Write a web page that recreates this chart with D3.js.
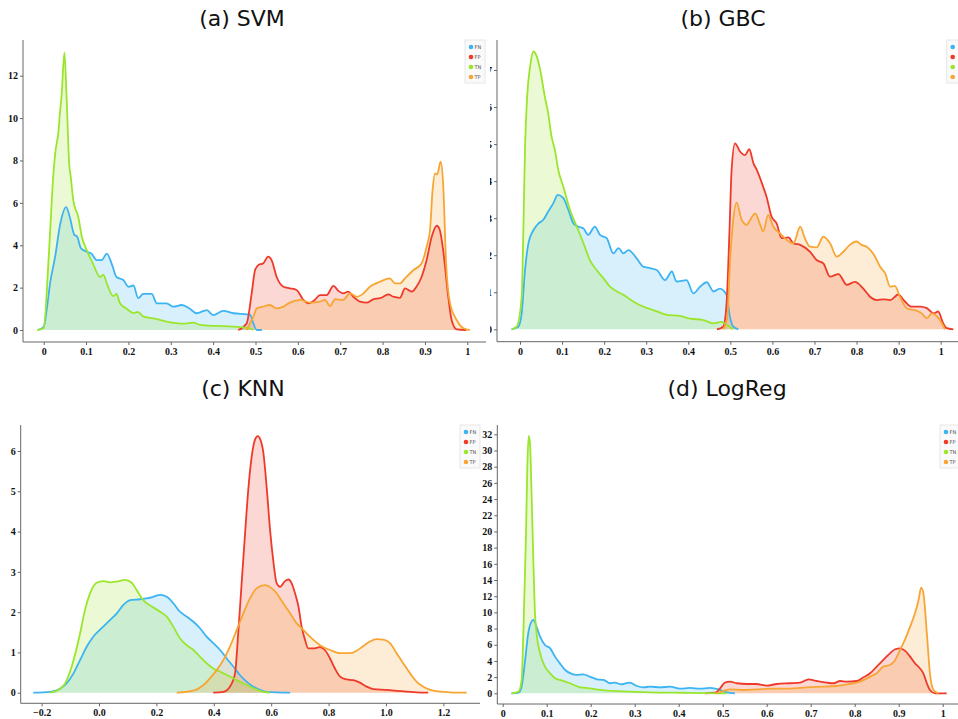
<!DOCTYPE html>
<html>
<head>
<meta charset="utf-8">
<script src="https://cdn.jsdelivr.net/npm/d3@7"></script>
<style>
  body { margin: 0; background: #fff; }
  svg { display: block; }
  .axis path, .axis line { stroke: #666; }
  .axis text { font-family: 'Liberation Serif', serif; font-weight: bold; font-size: 10px; fill: #111; }
  .title { font-family: 'DejaVu Sans', sans-serif; font-size: 22px; fill: #111; }
  .legend text { font-family: 'DejaVu Sans', sans-serif; font-size: 5px; fill: #555; }
</style>
</head>
<body>
<svg id="chart" width="958" height="719"></svg>
<script>
const series = ['FN', 'FP', 'TN', 'TP']
const colors = { FN: '#3db4f2', FP: '#ee3a2a', TN: '#9ae62c', TP: '#f7a533' }

// (a) SVM
const svmFN = [[-0.014,0],[0,0.15],[0.007,0.94],[0.015,2.2],[0.027,3.46],[0.039,5.0],[0.053,5.8],[0.062,5.3],[0.072,4.5],[0.079,4.4],[0.088,3.85],[0.101,3.7],[0.113,3.6],[0.125,3.3],[0.137,3.3],[0.149,3.6],[0.161,3.1],[0.172,2.5],[0.188,2.36],[0.2,2.04],[0.212,2.1],[0.223,1.5],[0.235,1.7],[0.255,1.7],[0.267,1.26],[0.29,1.26],[0.306,1.1],[0.326,1.18],[0.345,1.0],[0.361,0.79],[0.385,0.94],[0.4,0.7],[0.424,0.9],[0.448,0.79],[0.479,0.74],[0.487,0.72],[0.495,0.31],[0.503,0],[0.515,0]]
const svmFP = [[0.459,0],[0.479,0.31],[0.491,1.73],[0.499,2.83],[0.507,3.07],[0.518,3.14],[0.530,3.46],[0.538,3.3],[0.550,2.5],[0.566,2.04],[0.581,1.97],[0.597,1.89],[0.613,1.42],[0.625,1.26],[0.640,1.42],[0.652,1.65],[0.668,1.65],[0.684,2.08],[0.696,1.84],[0.707,1.73],[0.719,1.81],[0.731,1.57],[0.747,1.34],[0.762,1.29],[0.778,1.45],[0.794,1.5],[0.814,1.68],[0.825,1.57],[0.841,1.52],[0.853,1.96],[0.869,1.81],[0.880,2.04],[0.892,2.5],[0.904,3.3],[0.916,4.4],[0.928,4.92],[0.935,4.72],[0.943,3.77],[0.955,1.57],[0.963,0.47],[0.975,0.03],[0.998,0]]
const svmTN = [[-0.015,0],[0,0.1],[0.012,3.5],[0.023,7.4],[0.027,8.3],[0.035,9.4],[0.039,10.4],[0.042,11],[0.049,13.1],[0.054,11],[0.060,7.9],[0.064,7.2],[0.070,6.1],[0.082,5.3],[0.090,4.4],[0.101,3.8],[0.117,3.1],[0.133,2.5],[0.141,2.6],[0.149,2.2],[0.164,1.6],[0.172,1.7],[0.180,1.26],[0.196,1.0],[0.212,0.8],[0.222,0.85],[0.236,0.63],[0.259,0.55],[0.290,0.4],[0.330,0.3],[0.353,0.35],[0.369,0.24],[0.408,0.19],[0.448,0.16],[0.487,0.08],[0.495,0]]
const svmTP = [[0.479,0],[0.495,0.63],[0.503,1.02],[0.518,1.1],[0.534,1.18],[0.550,1.02],[0.566,1.1],[0.581,1.29],[0.605,1.42],[0.629,1.29],[0.652,1.34],[0.664,1.42],[0.676,1.13],[0.688,1.45],[0.707,1.42],[0.723,1.73],[0.739,1.57],[0.755,1.73],[0.770,2.04],[0.794,2.28],[0.817,2.44],[0.829,2.2],[0.841,2.2],[0.853,2.44],[0.873,2.83],[0.892,3.14],[0.904,3.93],[0.912,4.72],[0.918,6.6],[0.924,7.39],[0.929,7.34],[0.937,7.94],[0.943,6.9],[0.950,3.14],[0.959,1.29],[0.975,0.47],[0.991,0.08],[1.006,0]]

// (b) GBC
const gbcFN = [[-0.020,0],[-0.004,0.07],[0.004,0.43],[0.012,1.6],[0.020,2.32],[0.032,2.68],[0.044,2.86],[0.055,2.95],[0.067,3.18],[0.079,3.4],[0.090,3.63],[0.103,3.54],[0.115,3.22],[0.127,2.86],[0.139,2.77],[0.151,2.72],[0.162,2.55],[0.178,2.77],[0.190,2.55],[0.206,2.46],[0.222,2.05],[0.234,2.19],[0.246,2.05],[0.258,2.14],[0.277,1.92],[0.293,1.69],[0.309,1.65],[0.325,1.6],[0.345,1.33],[0.361,1.56],[0.372,1.29],[0.396,1.33],[0.412,0.97],[0.428,1.15],[0.444,1.27],[0.460,1.02],[0.475,1.1],[0.491,0.93],[0.499,0.34],[0.507,0.07],[0.519,0]]
const gbcFP = [[0.468,0],[0.483,0.07],[0.491,0.7],[0.498,2.68],[0.503,4.3],[0.511,5.02],[0.523,4.8],[0.535,4.7],[0.545,4.86],[0.555,4.48],[0.563,4.3],[0.578,3.85],[0.586,3.58],[0.598,3.04],[0.610,2.86],[0.622,2.46],[0.638,2.48],[0.650,2.32],[0.666,2.28],[0.689,2.1],[0.705,1.87],[0.721,1.78],[0.737,1.42],[0.757,1.49],[0.777,1.2],[0.796,1.28],[0.816,1.1],[0.832,0.88],[0.848,0.79],[0.864,0.81],[0.880,0.79],[0.899,0.94],[0.915,0.75],[0.931,0.61],[0.951,0.61],[0.967,0.57],[0.983,0.43],[0.994,0.48],[1.006,0.16],[1.014,0.03],[1.030,0]]
const gbcTN = [[-0.020,0],[-0.008,0.07],[0.004,0.88],[0.008,2.68],[0.012,4.93],[0.017,6.28],[0.024,7.09],[0.032,7.5],[0.040,7.36],[0.048,7.0],[0.059,6.28],[0.067,5.83],[0.075,5.2],[0.083,4.84],[0.091,4.3],[0.103,3.85],[0.119,3.22],[0.135,2.77],[0.151,2.32],[0.166,1.87],[0.182,1.6],[0.198,1.38],[0.214,1.15],[0.230,1.02],[0.246,0.93],[0.269,0.75],[0.293,0.61],[0.317,0.52],[0.349,0.39],[0.380,0.36],[0.404,0.29],[0.436,0.25],[0.460,0.16],[0.479,0.2],[0.491,0.12],[0.507,0]]
const gbcTP = [[0.483,0],[0.493,0.34],[0.499,1.78],[0.506,2.86],[0.515,3.42],[0.527,2.95],[0.539,2.82],[0.547,2.95],[0.559,3.13],[0.571,2.82],[0.578,2.64],[0.590,3.09],[0.602,2.77],[0.618,2.59],[0.634,2.41],[0.650,2.32],[0.666,2.77],[0.677,2.46],[0.689,2.23],[0.705,2.21],[0.721,2.5],[0.737,2.32],[0.753,1.96],[0.769,2.1],[0.784,2.28],[0.800,2.37],[0.812,2.28],[0.824,2.23],[0.844,1.96],[0.856,1.69],[0.868,1.51],[0.880,1.15],[0.891,1.17],[0.903,0.88],[0.919,0.57],[0.943,0.5],[0.955,0.43],[0.967,0.3],[0.979,0.43],[0.990,0.36],[0.998,0.25],[1.010,0]]

// (c) KNN
const knnFN = [[-0.229,0],[-0.171,0.02],[-0.136,0.1],[-0.113,0.23],[-0.089,0.48],[-0.066,0.81],[-0.043,1.14],[-0.020,1.39],[0.003,1.56],[0.038,1.8],[0.062,1.97],[0.085,2.18],[0.108,2.3],[0.143,2.32],[0.166,2.34],[0.189,2.38],[0.213,2.43],[0.236,2.38],[0.259,2.22],[0.282,2.01],[0.305,1.89],[0.329,1.76],[0.352,1.6],[0.375,1.39],[0.398,1.23],[0.422,1.06],[0.445,0.85],[0.468,0.65],[0.491,0.44],[0.515,0.27],[0.538,0.15],[0.561,0.07],[0.584,0.02],[0.666,0]]
const knnFP = [[0.398,0],[0.433,0.02],[0.456,0.15],[0.474,0.48],[0.485,1.47],[0.497,2.72],[0.509,3.96],[0.520,5.03],[0.532,5.86],[0.543,6.27],[0.553,6.37],[0.563,6.27],[0.573,5.94],[0.584,5.12],[0.596,4.04],[0.607,3.29],[0.619,2.72],[0.631,2.63],[0.648,2.77],[0.660,2.81],[0.671,2.72],[0.683,2.47],[0.695,2.14],[0.706,1.64],[0.718,1.31],[0.729,1.1],[0.747,1.1],[0.770,1.13],[0.787,1.06],[0.805,0.85],[0.822,0.6],[0.840,0.4],[0.863,0.33],[0.886,0.31],[0.909,0.25],[0.933,0.15],[0.956,0.09],[1.002,0.07],[1.049,0.04],[1.107,0.01],[1.147,0]]
const knnTN = [[-0.171,0],[-0.142,0.07],[-0.118,0.23],[-0.095,0.65],[-0.066,1.47],[-0.049,2.05],[-0.031,2.47],[-0.008,2.73],[0.015,2.77],[0.038,2.74],[0.062,2.76],[0.091,2.8],[0.114,2.73],[0.131,2.55],[0.154,2.3],[0.184,2.14],[0.213,2.01],[0.236,1.89],[0.259,1.64],[0.282,1.35],[0.305,1.18],[0.329,1.06],[0.352,0.89],[0.375,0.73],[0.398,0.6],[0.422,0.52],[0.445,0.44],[0.468,0.36],[0.491,0.27],[0.515,0.19],[0.538,0.11],[0.573,0.02],[0.596,0]]
const knnTP = [[0.271,0],[0.329,0.05],[0.364,0.19],[0.387,0.36],[0.410,0.56],[0.433,0.81],[0.456,1.14],[0.480,1.56],[0.503,1.97],[0.526,2.34],[0.549,2.59],[0.578,2.67],[0.602,2.59],[0.619,2.47],[0.642,2.22],[0.666,1.97],[0.689,1.72],[0.712,1.56],[0.735,1.39],[0.770,1.18],[0.805,1.06],[0.840,0.98],[0.875,0.98],[0.898,1.04],[0.921,1.16],[0.944,1.27],[0.967,1.33],[0.991,1.32],[1.014,1.23],[1.037,0.98],[1.060,0.73],[1.084,0.48],[1.107,0.27],[1.130,0.15],[1.165,0.05],[1.223,0.01],[1.281,0]]

// (d) LogReg
const lrFN = [[0.020,0],[0.036,0.08],[0.043,0.82],[0.051,4.1],[0.058,7.4],[0.064,8.7],[0.070,9.06],[0.077,8.2],[0.085,7.0],[0.096,5.97],[0.108,5.56],[0.119,4.53],[0.130,3.7],[0.142,2.88],[0.157,2.39],[0.168,2.27],[0.183,2.35],[0.198,2.06],[0.214,1.73],[0.229,1.65],[0.244,1.24],[0.255,1.32],[0.270,1.11],[0.289,1.32],[0.305,0.9],[0.320,0.74],[0.335,0.82],[0.358,0.74],[0.380,0.82],[0.403,0.58],[0.426,0.66],[0.448,0.58],[0.471,0.66],[0.494,0.41],[0.509,0.12],[0.528,0]]
const lrFP = [[0.460,0],[0.483,0.08],[0.494,0.62],[0.505,1.32],[0.517,1.44],[0.532,1.24],[0.555,1.15],[0.577,1.15],[0.600,0.95],[0.623,1.15],[0.653,1.24],[0.676,1.32],[0.695,1.73],[0.714,1.52],[0.736,1.32],[0.752,1.24],[0.767,1.52],[0.782,1.44],[0.805,1.52],[0.820,1.98],[0.835,2.47],[0.850,3.3],[0.865,4.12],[0.880,4.94],[0.892,5.44],[0.903,5.56],[0.914,5.27],[0.926,4.53],[0.937,3.7],[0.948,3.09],[0.956,2.47],[0.964,1.24],[0.971,0.41],[0.983,0],[1.009,0]]
const lrTN = [[0.020,0],[0.036,0.2],[0.043,1.65],[0.048,9.47],[0.053,19.8],[0.056,28],[0.059,31.8],[0.062,30.9],[0.066,23.9],[0.070,15.65],[0.073,10.3],[0.077,7.4],[0.085,4.94],[0.096,3.3],[0.108,2.47],[0.119,1.85],[0.130,1.65],[0.153,1.24],[0.176,0.74],[0.198,0.62],[0.221,0.41],[0.252,0.29],[0.289,0.2],[0.335,0.12],[0.388,0.08],[0.426,0.05],[0.509,0]]
const lrTP = [[0.486,0],[0.502,0.29],[0.517,0.49],[0.547,0.41],[0.577,0.49],[0.615,0.58],[0.653,0.58],[0.691,0.74],[0.729,0.82],[0.759,0.9],[0.789,1.15],[0.812,1.44],[0.835,2.06],[0.850,2.47],[0.865,3.3],[0.880,3.5],[0.892,4.12],[0.903,5.35],[0.914,6.59],[0.926,8.24],[0.937,9.88],[0.945,11.5],[0.951,13.06],[0.956,12.4],[0.964,7.4],[0.971,2.47],[0.979,0.41],[0.990,0]]

const svmYTicks = [0, 2, 4, 6, 8, 10, 12]
const gbcYTicks = [0, 1, 2, 3, 4, 5, 6, 7]
const knnYTicks = [0, 1, 2, 3, 4, 5, 6]
const lrYTicks = d3.range(0, 33, 2)
const unitXTicks = d3.range(0, 11).map(d => d / 10)
const knnXTicks = [-0.2, 0, 0.2, 0.4, 0.6, 0.8, 1.0, 1.2]

const svg = d3.select('#chart')

const panels = [
  {
    title: '(a) SVM', titleX: 242, titleY: 26,
    clip: [0, 0, 488, 360],
    axisX: 23, axisTop: 40, axisBottom: 342, axisRight: 486,
    x: [0, 1], xr: [43.7, 467.3], y: [0, 12], yr: [330, 75.7],
    xTicks: unitXTicks, xFormat: d3.format('~g'), yTicks: svmYTicks,
    legend: [465, 40], legendText: true,
    data: { FN: svmFN, FP: svmFP, TN: svmTN, TP: svmTP }
  },
  {
    title: '(b) GBC', titleX: 723, titleY: 26,
    clip: [490, 0, 468, 360],
    axisX: 497, axisTop: 40, axisBottom: 341.7, axisRight: 958,
    x: [0, 1], xr: [520, 940.7], y: [0, 7], yr: [329.3, 70],
    xTicks: unitXTicks, xFormat: d3.format('~g'), yTicks: gbcYTicks,
    // legend sits past the right edge of the figure, only the dots show
    legend: [946.7, 40], legendText: false,
    data: { FN: gbcFN, FP: gbcFP, TN: gbcTN, TP: gbcTP }
  },
  {
    title: '(c) KNN', titleX: 243, titleY: 396,
    clip: [0, 360, 482, 359],
    axisX: 20.7, axisTop: 425, axisBottom: 703.3, axisRight: 480,
    x: [0, 1], xr: [99, 386], y: [0, 6], yr: [692.7, 451],
    xTicks: knnXTicks, xFormat: d3.format('.1f'), yTicks: knnYTicks,
    legend: [460, 425], legendText: true,
    data: { FN: knnFN, FP: knnFP, TN: knnTN, TP: knnTP }
  },
  {
    title: '(d) LogReg', titleX: 727, titleY: 396,
    clip: [482, 360, 476, 359],
    axisX: 497.3, axisTop: 425, axisBottom: 704, axisRight: 958,
    x: [0, 1], xr: [502.7, 942.7], y: [0, 32], yr: [693.3, 434.3],
    xTicks: unitXTicks, xFormat: d3.format('~g'), yTicks: lrYTicks,
    legend: [940, 425], legendText: true,
    data: { FN: lrFN, FP: lrFP, TN: lrTN, TP: lrTP }
  }
]

panels.forEach((p, i) => drawPanel(p, i))

function drawPanel (p, i) {
  svg.append('clipPath')
    .attr('id', `clip${i}`)
    .append('rect')
    .attr('x', p.clip[0]).attr('y', p.clip[1])
    .attr('width', p.clip[2]).attr('height', p.clip[3])

  const g = svg.append('g').attr('clip-path', `url(#clip${i})`)

  const x = d3.scaleLinear().domain(p.x).range(p.xr)
  const y = d3.scaleLinear().domain(p.y).range(p.yr)

  svg.append('text')
    .attr('class', 'title')
    .attr('x', p.titleX)
    .attr('y', p.titleY)
    .attr('text-anchor', 'middle')
    .text(p.title)

  const area = d3.area()
    .x(d => x(d[0]))
    .y0(y(0))
    .y1(d => y(d[1]))
    .curve(d3.curveMonotoneX)

  const line = d3.line()
    .x(d => x(d[0]))
    .y(d => y(d[1]))
    .curve(d3.curveMonotoneX)

  series.forEach(s => {
    g.append('path')
      .datum(p.data[s])
      .attr('d', area)
      .attr('fill', colors[s])
      .attr('fill-opacity', 0.2)
  })
  series.forEach(s => {
    g.append('path')
      .datum(p.data[s])
      .attr('d', line)
      .attr('fill', 'none')
      .attr('stroke', colors[s])
      .attr('stroke-width', 1.8)
      .attr('stroke-linejoin', 'round')
  })

  // axes: explicit lines spanning the frame, ticks from d3 axes
  const yAxis = d3.axisLeft(y).tickValues(p.yTicks).tickSize(3).tickPadding(2).tickFormat(d3.format('d'))
  const ya = g.append('g')
    .attr('class', 'axis')
    .attr('transform', `translate(${p.axisX},0)`)
    .call(yAxis)
  ya.select('.domain').remove()

  const xAxis = d3.axisBottom(x).tickValues(p.xTicks).tickSize(3).tickPadding(3).tickFormat(p.xFormat)
  const xa = g.append('g')
    .attr('class', 'axis')
    .attr('transform', `translate(0,${p.axisBottom})`)
    .call(xAxis)
  xa.select('.domain').remove()

  g.append('line')
    .attr('x1', p.axisX).attr('x2', p.axisX)
    .attr('y1', p.axisTop).attr('y2', p.axisBottom)
    .attr('stroke', '#666')
  g.append('line')
    .attr('x1', p.axisX).attr('x2', p.axisRight)
    .attr('y1', p.axisBottom).attr('y2', p.axisBottom)
    .attr('stroke', '#666')

  // legend
  const lg = g.append('g')
    .attr('class', 'legend')
    .attr('transform', `translate(${p.legend[0]},${p.legend[1]})`)
  lg.append('rect')
    .attr('width', 20).attr('height', 43)
    .attr('fill', '#fafafa')
    .attr('stroke', '#e2e2e2')
    .attr('stroke-width', 0.8)
  series.forEach((s, k) => {
    lg.append('circle')
      .attr('cx', 6).attr('cy', 7 + k * 10)
      .attr('r', 2.3)
      .attr('fill', colors[s])
    if (p.legendText) {
      lg.append('text')
        .attr('x', 9.5).attr('y', 8.8 + k * 10)
        .text(s)
    }
  })
}
</script>
</body>
</html>
